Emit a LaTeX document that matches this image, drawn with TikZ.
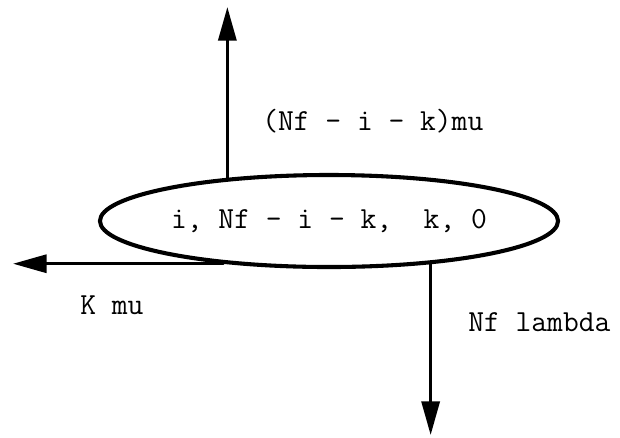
\documentclass[tikz,border=0pt]{standalone}
\usetikzlibrary{shapes.geometric,arrows.meta}
\begin{document}
\begin{tikzpicture}[x=0.025cm,y=-0.025cm,line cap=round,line join=round,
  >={Triangle[length=0.84cm,width=0.45cm]},
  lbl/.style={font=\ttfamily\fontsize{21.8}{24}\selectfont,inner sep=0pt},
  flow/.style={line width=2.3pt,->}]
  \useasboundingbox (0,0) rectangle (620,437);
  \node[ellipse,draw,line width=2.9pt,minimum width=11.45cm,minimum height=2.3cm,
    inner sep=0pt,lbl] (state) at (329,221) {i, Nf - i - k,~ k, 0};
  \coordinate (upend) at (225,7);
  \coordinate (kend) at (13,260);
  \coordinate (lamend) at (427,435);
  \draw[flow] (state.157.5) -- (state.157.5 |- upend);
  \draw[flow] (state.202) -- (state.202 -| kend);
  \draw[flow] (state.337.3) -- (state.337.3 |- lamend);
  \node[lbl,anchor=west] (upl) at (262,121) {(Nf - i - k)mu};
  \node[lbl,anchor=west] (kl) at (80,305) {K mu};
  \node[lbl,anchor=west] (laml) at (468,322) {Nf lambda};
\end{tikzpicture}
\end{document}
